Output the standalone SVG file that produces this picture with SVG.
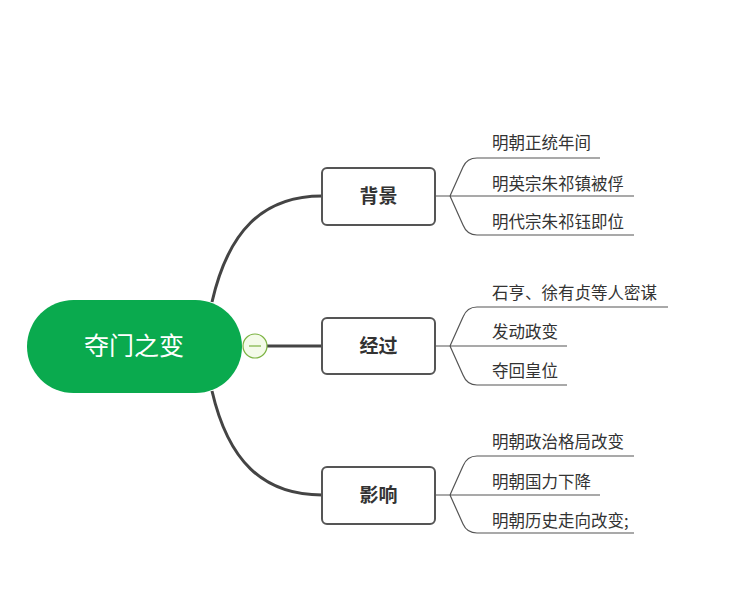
<svg xmlns="http://www.w3.org/2000/svg" width="733" height="600" viewBox="0 0 733 600">
<style>
.main{stroke:#444;stroke-width:3;fill:none}
.sub{stroke:#555;stroke-width:1.2;fill:none}
.box{fill:#fff;stroke:#555;stroke-width:2}
.t1{font-family:"Noto Sans CJK SC","Liberation Sans",sans-serif;font-size:19px;font-weight:bold;fill:#333;text-anchor:middle}
.t2{font-family:"Noto Sans CJK SC","Liberation Sans",sans-serif;font-size:16.5px;fill:#333}
.t0{font-family:"Noto Sans CJK SC","Liberation Sans",sans-serif;font-size:25px;fill:#fff;text-anchor:middle}
</style>
<rect width="733" height="600" fill="#fff"/>
<g id="connectors">
<path class="main" d="M212,302 C228,232 262,196 322,196"/>
<path class="main" d="M267,346 L322,346"/>
<path class="main" d="M212,391 C228,460 262,495 322,495"/>
<path class="sub" d="M435,196 L450,196 M450,196 L463,167 Q467,158 477,158 L600,158 M450,196 L634,196 M450,196 L463,225 Q467,235 477,235 L634,235"/>
<path class="sub" d="M435,346 L450,346 M450,346 L463,317 Q467,307 477,307 L668,307 M450,346 L567,346 M450,346 L463,375 Q467,385 477,385 L567,385"/>
<path class="sub" d="M435,495 L450,495 M450,495 L463,466 Q467,456 477,456 L634,456 M450,495 L600,495 M450,495 L463,524 Q467,533 477,533 L634,533"/>
</g>
<g id="root">
<rect x="27" y="300" width="215" height="93" rx="46.5" fill="#0aaa4e"/>
<text class="t0" x="134" y="355">夺门之变</text>
<circle cx="255" cy="346" r="12" fill="#f4fbe9" stroke="#7cb342" stroke-width="1.2"/>
<path d="M249,346 L261,346" stroke="#7cb342" stroke-width="1.2"/>
</g>
<g id="n1">
<rect class="box" x="322" y="168" width="113" height="57" rx="5"/>
<text class="t1" x="378.5" y="203">背景</text>
</g>
<g id="n2">
<rect class="box" x="322" y="318" width="113" height="56" rx="5"/>
<text class="t1" x="378.5" y="353">经过</text>
</g>
<g id="n3">
<rect class="box" x="322" y="467" width="113" height="57" rx="5"/>
<text class="t1" x="378.5" y="502">影响</text>
</g>
<g id="leaves">
<text class="t2" x="492" y="149">明朝正统年间</text>
<text class="t2" x="492" y="190">明英宗朱祁镇被俘</text>
<text class="t2" x="492" y="228">明代宗朱祁钰即位</text>
<text class="t2" x="492" y="299">石亨、徐有贞等人密谋</text>
<text class="t2" x="492" y="338">发动政变</text>
<text class="t2" x="492" y="377">夺回皇位</text>
<text class="t2" x="492" y="448">明朝政治格局改变</text>
<text class="t2" x="492" y="488">明朝国力下降</text>
<text class="t2" x="492" y="527">明朝历史走向改变;</text>
</g>
</svg>
